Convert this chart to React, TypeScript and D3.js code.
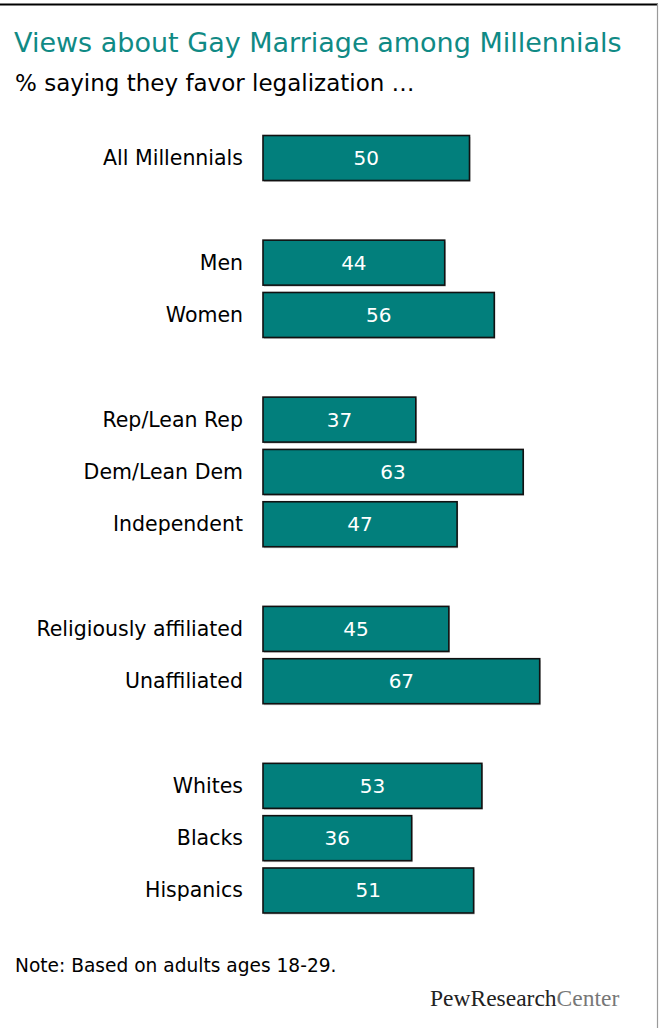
import React from "react";
import * as d3 from "d3";

const categories = [
  "All Millennials",
  "",
  "Men",
  "Women",
  " ",
  "Rep/Lean Rep",
  "Dem/Lean Dem",
  "Independent",
  "  ",
  "Religiously affiliated",
  "Unaffiliated",
  "   ",
  "Whites",
  "Blacks",
  "Hispanics",
];
const values: (number | null)[] = [50, null, 44, 56, null, 37, 63, 47, null, 45, 67, null, 53, 36, 51];

const title = "Views about Gay Marriage among Millennials";
const subtitle = "% saying they favor legalization \u2026";
const note = "Note: Based on adults ages 18-29.";

const W = 659;
const H = 1028;
const FONT = "'DejaVu Sans', Verdana, sans-serif";

export default function App() {
  const x = d3.scaleLinear().domain([0, 100]).range([263, 676]);
  const y = d3
    .scaleBand<string>()
    .domain(categories)
    .range([131.85, 916.65])
    .paddingInner(0.14)
    .paddingOuter(0.07);
  const bh = y.bandwidth();

  return (
    <svg
      width={W}
      height={H}
      style={{ position: "absolute", left: 0, top: 0, background: "#fff" }}
      fontFamily={FONT}
    >
      <rect x={0} y={0} width={W} height={H} fill="#fff" />
      <line x1={0} x2={658} y1={4.5} y2={4.5} stroke="#000" strokeWidth={2} />
      <line x1={657.5} x2={657.5} y1={4} y2={H} stroke="#9a9a9a" strokeWidth={1.2} />

      <text x={14} y={52} fontSize={27} fill="#108a85">
        {title}
      </text>
      <text x={15} y={91} fontSize={23} fill="#000">
        {subtitle}
      </text>

      {categories.map((c, i) => {
        const v = values[i];
        if (v == null) return null;
        const yy = y(c)!;
        const x0 = x(0);
        const x1 = x(v);
        return (
          <g key={c}>
            <rect x={x0 + 1} y={yy + 1.5} width={x1 - x0} height={bh} fill="#c8c8c8" />
            <rect
              x={x0}
              y={yy}
              width={x1 - x0}
              height={bh}
              fill="#027f7c"
              stroke="#111"
              strokeWidth={1.6}
            />
            <text
              x={(x0 + x1) / 2}
              y={yy + bh / 2 + 7}
              textAnchor="middle"
              fontSize={20}
              fill="#fff"
            >
              {v}
            </text>
            <text x={243} y={yy + bh / 2 + 7} textAnchor="end" fontSize={20.5} fill="#000">
              {c}
            </text>
          </g>
        );
      })}

      <text x={15} y={972} fontSize={18.6} fill="#000">
        {note}
      </text>
      <text
        x={430}
        y={1006}
        fontSize={23.5}
        fontFamily="'Liberation Serif', 'Times New Roman', serif"
      >
        <tspan fill="#222">PewResearch</tspan>
        <tspan fill="#777">Center</tspan>
      </text>
    </svg>
  );
}
